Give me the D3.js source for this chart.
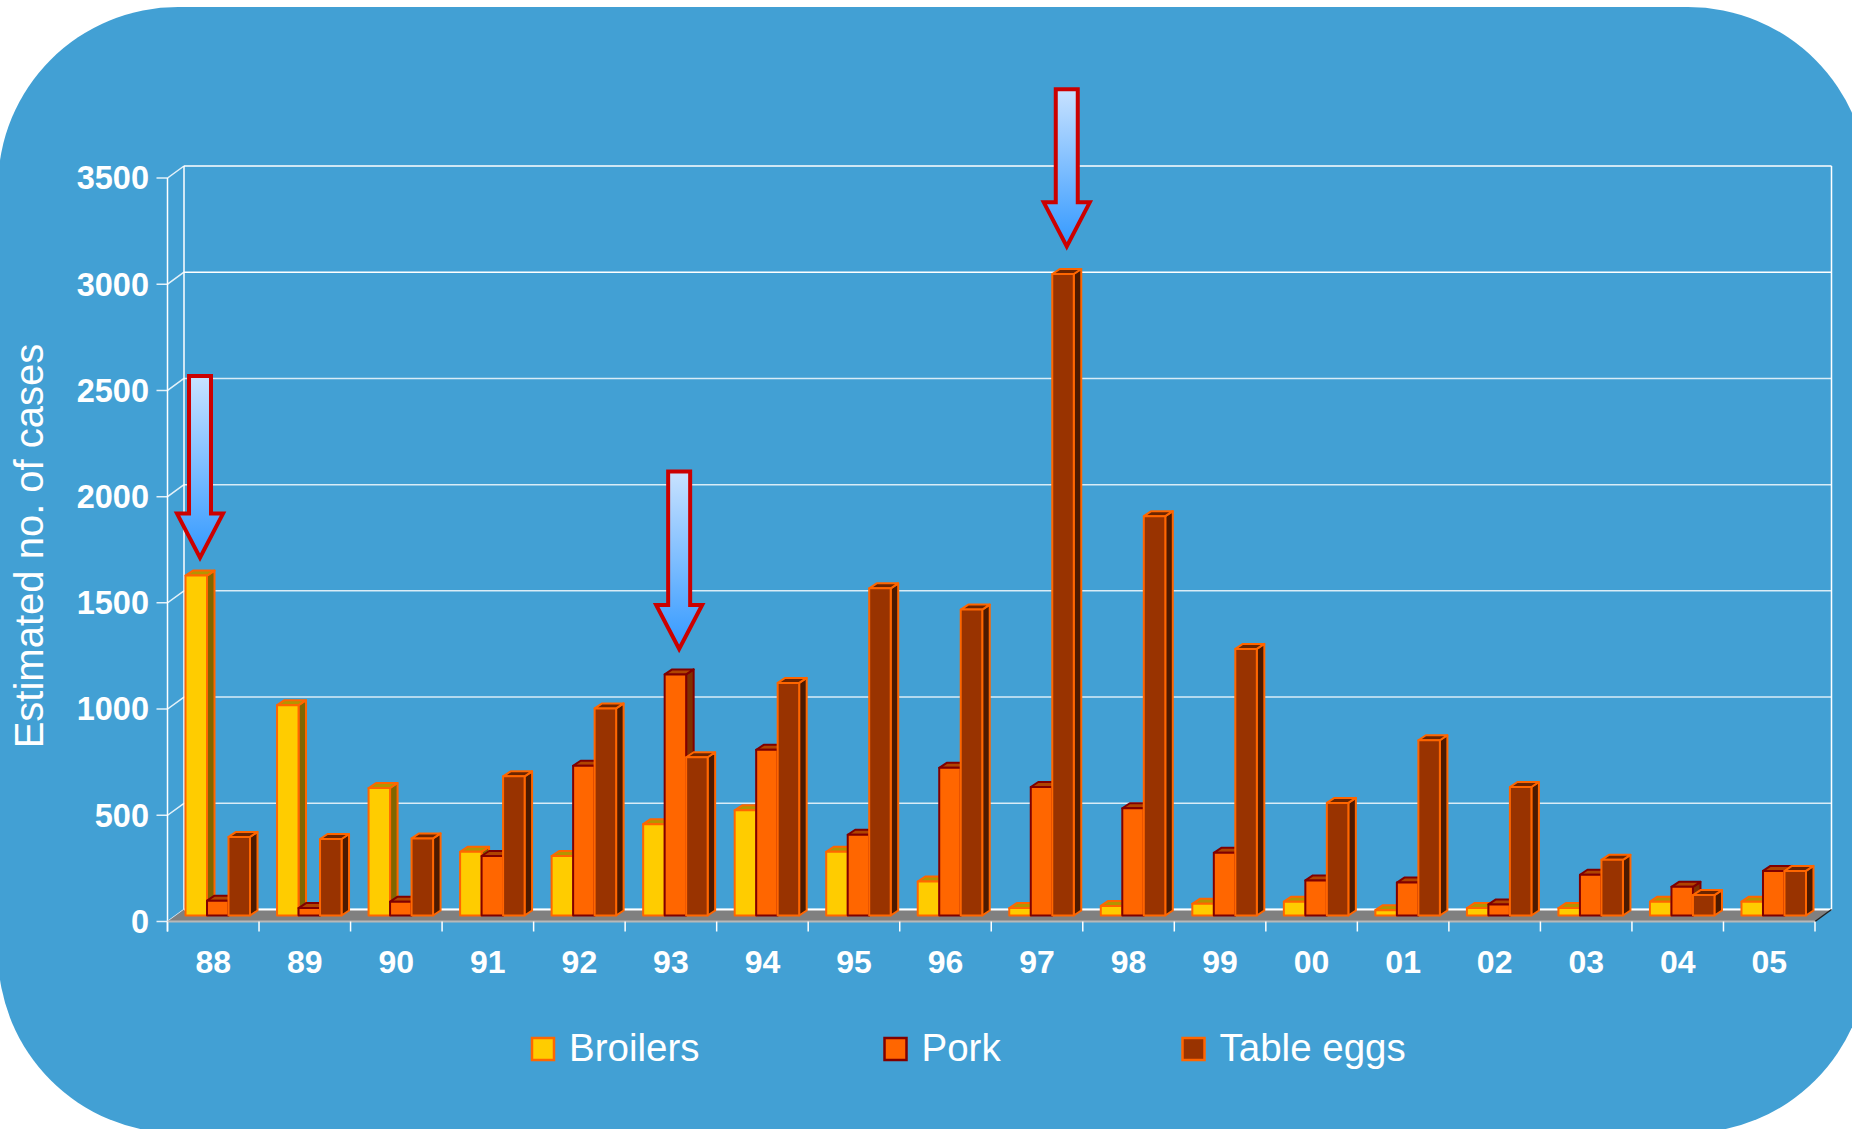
<!DOCTYPE html>
<html>
<head>
<meta charset="utf-8">
<title>Estimated no. of cases</title>
<script src="https://cdn.jsdelivr.net/npm/d3@7"></script>
<style>
  body { margin: 0; background: #ffffff; }
  svg { display: block; font-family: "Liberation Sans", Arial, sans-serif; }
</style>
</head>
<body>
<svg id="chart"></svg>
<script>
  // data
  var years = ['88','89','90','91','92','93','94','95','96','97','98','99','00','01','02','03','04','05'];
  var seriesNames = ['Broilers', 'Pork', 'Table eggs'];
  var broilers = [1600, 990, 600, 300, 280, 430, 495, 300, 160, 35, 45, 55, 65, 25, 35, 35, 65, 65];
  var pork     = [70, 35, 65, 280, 705, 1135, 780, 380, 695, 605, 505, 295, 165, 155, 52, 192, 135, 210];
  var eggs     = [370, 360, 363, 655, 975, 745, 1095, 1540, 1440, 3020, 1880, 1255, 530, 825, 605, 262, 96, 210];
  var yTicks = [0, 500, 1000, 1500, 2000, 2500, 3000, 3500];
  // arrows: which bar they point at, value where the shaft starts, value at the tip
  var arrows = [
    {year: '88', series: 0, top: 2540, tip: 1685},
    {year: '93', series: 1, top: 2090, tip: 1255},
    {year: '97', series: 2, top: 3890, tip: 3150}
  ];

  var width = 1852, height = 1129;
  var svg = d3.select('#chart').attr('width', width).attr('height', height);

  // colours per series: front, border, top face, side face
  var colors = [
    {front: '#FFCC00', stroke: '#FF6600', top: '#B39500', side: '#806600'},
    {front: '#FF6600', stroke: '#800000', top: '#B04400', side: '#803000'},
    {front: '#993300', stroke: '#FF6600', top: '#6B2400', side: '#4D1A00'}
  ];
  var values = [broilers, pork, eggs];

  // background panel
  svg.append('rect')
    .attr('x', -2).attr('y', 7)
    .attr('width', 1870).attr('height', 1126)
    .attr('rx', 180).attr('ry', 180)
    .attr('fill', '#42A0D4');

  // scales (front plane)
  var left = 167.5, right = 1815;
  var x = d3.scaleBand().domain(years).range([left, right]);
  var y = d3.scaleLinear().domain([0, 3500]).range([921.5, 178]);
  var DX = 16.5, DY = -12;     // wall depth
  var bDX = 7.5, bDY = -5;      // bar depth
  var step = x.step();
  var bw = 21.5;
  var pad = (step - 3 * bw - bDX) / 2;

  // grid on the back wall and the left side
  var grid = svg.append('g');
  yTicks.forEach(function(t) {
    var yy = y(t);
    grid.append('line')
      .attr('x1', left + DX).attr('x2', right + DX)
      .attr('y1', yy + DY).attr('y2', yy + DY)
      .attr('stroke', '#fff').attr('stroke-opacity', t >= 3000 ? 1 : 0.8).attr('stroke-width', 1.5);
    grid.append('polyline')
      .attr('points', [[left - 11, yy], [left, yy], [left + DX, yy + DY]].join(' '))
      .attr('fill', 'none').attr('stroke', '#fff').attr('stroke-opacity', 0.85).attr('stroke-width', 1.5);
    svg.append('text')
      .attr('x', 149).attr('y', yy)
      .attr('dy', '0.35em')
      .attr('text-anchor', 'end')
      .attr('font-size', 32.5).attr('font-weight', 'bold')
      .attr('fill', '#fff')
      .text(t);
  });
  grid.append('line')
    .attr('x1', left).attr('x2', left).attr('y1', y(3500)).attr('y2', y(0) + 10)
    .attr('stroke', '#fff').attr('stroke-width', 1.5);
  grid.append('line')
    .attr('x1', left + DX).attr('x2', left + DX).attr('y1', y(3500) + DY).attr('y2', y(0) + DY)
    .attr('stroke', '#fff').attr('stroke-width', 1.5);
  grid.append('line')
    .attr('x1', right + DX).attr('x2', right + DX).attr('y1', y(3500) + DY).attr('y2', y(0) + DY)
    .attr('stroke', '#fff').attr('stroke-width', 1.5);

  // floor
  svg.append('polygon')
    .attr('points', [[left, y(0)], [right, y(0)], [right + DX, y(0) + DY], [left + DX, y(0) + DY]].join(' '))
    .attr('fill', '#808080');
  svg.append('line')
    .attr('x1', left).attr('x2', right).attr('y1', y(0)).attr('y2', y(0))
    .attr('stroke', '#B8B8B8').attr('stroke-width', 2);
  svg.append('line')
    .attr('x1', left + DX).attr('x2', right + DX).attr('y1', y(0) + DY).attr('y2', y(0) + DY)
    .attr('stroke', '#fff').attr('stroke-width', 2);
  svg.append('line')
    .attr('x1', right).attr('x2', right + DX).attr('y1', y(0)).attr('y2', y(0) + DY)
    .attr('stroke', '#222').attr('stroke-width', 1.5);

  // category ticks and labels
  var xt = d3.range(years.length + 1).map(function(i) { return left + i * step; });
  svg.selectAll('.xtick').data(xt).enter().append('line')
    .attr('class', 'xtick')
    .attr('x1', function(d) { return d; }).attr('x2', function(d) { return d; })
    .attr('y1', y(0)).attr('y2', y(0) + 10)
    .attr('stroke', '#fff').attr('stroke-width', 1.5);
  svg.selectAll('.xlab').data(years).enter().append('text')
    .attr('class', 'xlab')
    .attr('x', function(d) { return x(d) + step / 2; })
    .attr('y', 973)
    .attr('text-anchor', 'middle')
    .attr('font-size', 32).attr('font-weight', 'bold')
    .attr('fill', '#fff')
    .text(function(d) { return d; });

  // bars
  function barX(year, s) { return x(year) + DX / 2 + pad + s * bw; }
  var base = y(0) + DY / 2;
  function barTop(v) { return y(v) + DY / 2; }

  var bars = svg.append('g');
  years.forEach(function(yr, i) {
    values.forEach(function(vals, s) {
      var v = vals[i], c = colors[s];
      var x0 = barX(yr, s), x1 = x0 + bw, t = barTop(v);
      var g = bars.append('g')
        .attr('stroke', c.stroke).attr('stroke-width', 2).attr('stroke-linejoin', 'round');
      g.append('polygon') // side
        .attr('points', [[x1, t], [x1 + bDX, t + bDY], [x1 + bDX, base + bDY], [x1, base]].join(' '))
        .attr('fill', c.side);
      g.append('polygon') // top
        .attr('points', [[x0, t], [x0 + bDX, t + bDY], [x1 + bDX, t + bDY], [x1, t]].join(' '))
        .attr('fill', c.top);
      g.append('rect') // front
        .attr('x', x0).attr('y', t)
        .attr('width', bw).attr('height', base - t)
        .attr('fill', c.front);
    });
  });

  // arrows
  var defs = svg.append('defs');
  var grad = defs.append('linearGradient').attr('id', 'arrowGrad')
    .attr('x1', 0).attr('y1', 0).attr('x2', 0).attr('y2', 1);
  grad.append('stop').attr('offset', '0%').attr('stop-color', '#C8E2FF');
  grad.append('stop').attr('offset', '100%').attr('stop-color', '#3399FF');

  var sw = 11, hw = 23, hl = 44;
  arrows.forEach(function(a) {
    var cx = barX(a.year, a.series) + bw / 2 + bDX / 2;
    var tip = barTop(a.tip);
    var top = barTop(a.top);
    var hy = tip - hl;
    svg.append('polygon')
      .attr('points', [[cx - sw, top], [cx + sw, top], [cx + sw, hy], [cx + hw, hy], [cx, tip],
                       [cx - hw, hy], [cx - sw, hy]].join(' '))
      .attr('fill', 'url(#arrowGrad)')
      .attr('stroke', '#CC0000').attr('stroke-width', 4);
  });

  // y axis title
  svg.append('text')
    .attr('transform', 'translate(43,546) rotate(-90)')
    .attr('text-anchor', 'middle')
    .attr('font-size', 40)
    .attr('fill', '#fff')
    .text('Estimated no. of cases');

  // legend
  var legendX = [532, 884.5, 1182.5];
  var legend = svg.append('g');
  seriesNames.forEach(function(name, s) {
    legend.append('rect')
      .attr('x', legendX[s]).attr('y', 1038)
      .attr('width', 22).attr('height', 22)
      .attr('fill', colors[s].front)
      .attr('stroke', colors[s].stroke).attr('stroke-width', 2.5);
    legend.append('text')
      .attr('x', legendX[s] + 37).attr('y', 1061)
      .attr('font-size', 38.5)
      .attr('fill', '#fff')
      .text(name);
  });
</script>
</body>
</html>
